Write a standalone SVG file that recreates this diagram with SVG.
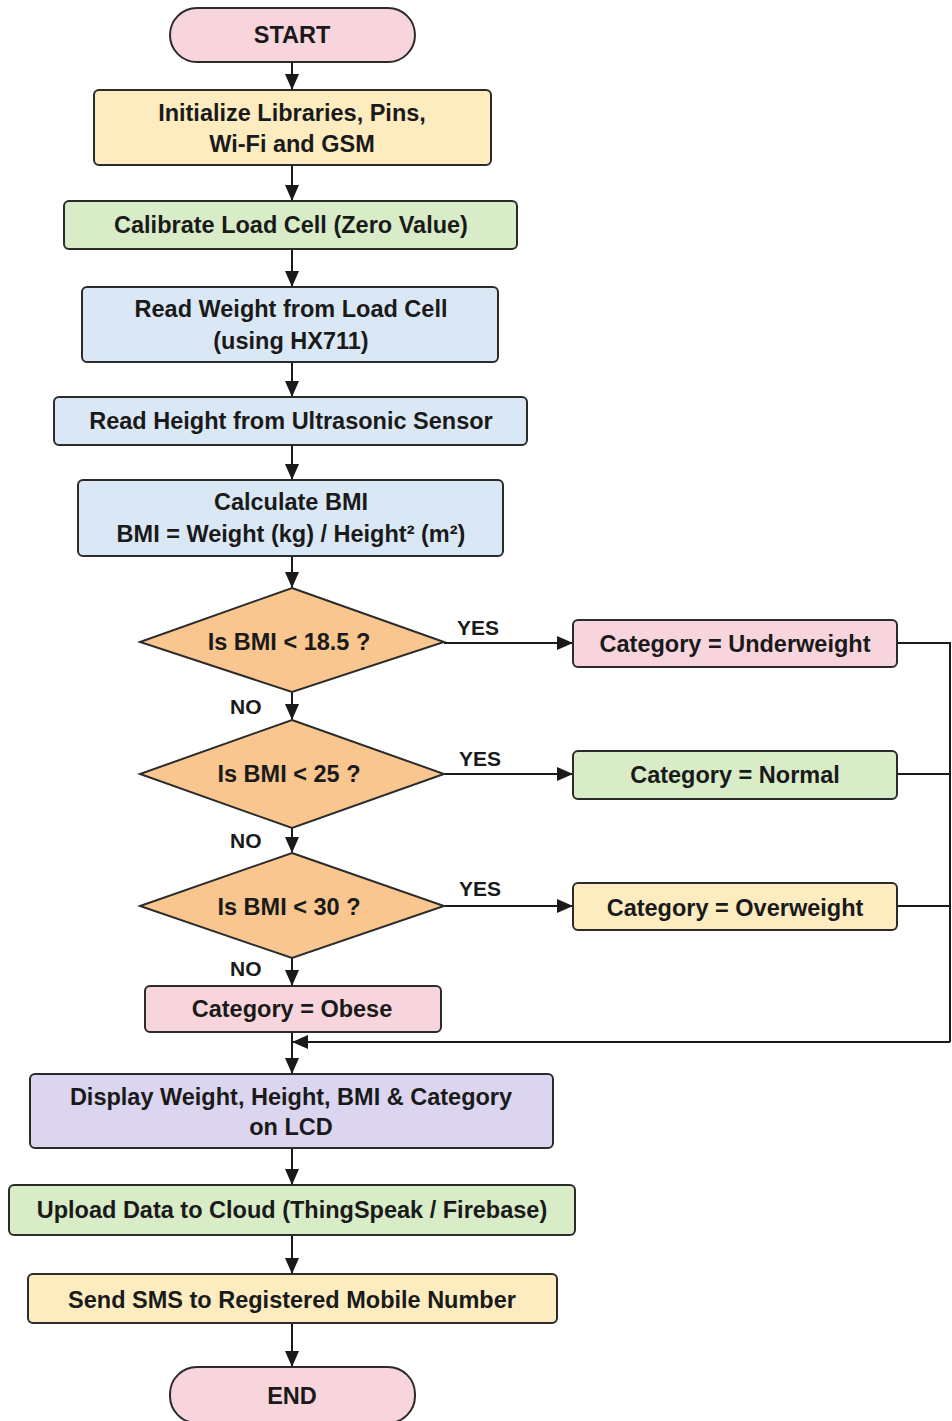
<svg xmlns="http://www.w3.org/2000/svg" width="952" height="1421" viewBox="0 0 952 1421">
<style>
  .n { stroke: #2b2b2b; stroke-width: 2; }
  .pink { fill: #f8d5dc; }
  .yel { fill: #fcecc0; }
  .grn { fill: #d8ecc8; }
  .blu { fill: #dae8f5; }
  .org { fill: #f9c68f; }
  .pur { fill: #dcd5f0; }
  text { font-family: "Liberation Sans", Arial, sans-serif; font-weight: bold; font-size: 23.5px; fill: #1a1a1a; text-anchor: middle; }
  .lbl { font-size: 21px; text-anchor: start; }
  .c { fill: none; stroke: #1a1a1a; stroke-width: 2; }
</style>
<defs>
  <marker id="ah" viewBox="0 0 16 14" refX="15" refY="7" markerWidth="16" markerHeight="14" markerUnits="userSpaceOnUse" orient="auto">
    <path d="M0,0 L16,7 L0,14 Z" fill="#1a1a1a"/>
  </marker>
</defs>
<rect width="952" height="1421" fill="#ffffff"/>

<g id="connectors">
  <line class="c" x1="292" y1="62" x2="292" y2="89" marker-end="url(#ah)"/>
  <line class="c" x1="292" y1="165" x2="292" y2="200" marker-end="url(#ah)"/>
  <line class="c" x1="292" y1="249" x2="292" y2="286" marker-end="url(#ah)"/>
  <line class="c" x1="292" y1="362" x2="292" y2="396" marker-end="url(#ah)"/>
  <line class="c" x1="292" y1="445" x2="292" y2="479" marker-end="url(#ah)"/>
  <line class="c" x1="292" y1="556" x2="292" y2="587" marker-end="url(#ah)"/>
  <line class="c" x1="292" y1="692" x2="292" y2="719" marker-end="url(#ah)"/>
  <line class="c" x1="292" y1="828" x2="292" y2="852" marker-end="url(#ah)"/>
  <line class="c" x1="292" y1="958" x2="292" y2="985" marker-end="url(#ah)"/>
  <line class="c" x1="292" y1="1032" x2="292" y2="1073" marker-end="url(#ah)"/>
  <line class="c" x1="292" y1="1148" x2="292" y2="1184" marker-end="url(#ah)"/>
  <line class="c" x1="292" y1="1235" x2="292" y2="1273" marker-end="url(#ah)"/>
  <line class="c" x1="292" y1="1323" x2="292" y2="1366" marker-end="url(#ah)"/>
  <line class="c" x1="444" y1="643" x2="572" y2="643" marker-end="url(#ah)"/>
  <line class="c" x1="444" y1="774" x2="572" y2="774" marker-end="url(#ah)"/>
  <line class="c" x1="444" y1="906" x2="572" y2="906" marker-end="url(#ah)"/>
  <polyline class="c" points="897,643 950,643 950,1042"/>
  <line class="c" x1="897" y1="774" x2="950" y2="774"/>
  <line class="c" x1="897" y1="906" x2="950" y2="906"/>
  <line class="c" x1="950" y1="1042" x2="293" y2="1042" marker-end="url(#ah)"/>
  <text class="lbl" x="457" y="635">YES</text>
  <text class="lbl" x="459" y="766">YES</text>
  <text class="lbl" x="459" y="896">YES</text>
  <text class="lbl" x="230" y="714">NO</text>
  <text class="lbl" x="230" y="848">NO</text>
  <text class="lbl" x="230" y="976">NO</text>
</g>

<g id="start">
  <rect class="n pink" x="170" y="8" width="245" height="54" rx="27"/>
  <text x="292" y="43">START</text>
</g>
<g id="init">
  <rect class="n yel" x="94" y="90" width="397" height="75" rx="5"/>
  <text x="292" y="121">Initialize Libraries, Pins,</text>
  <text x="292" y="152">Wi-Fi and GSM</text>
</g>
<g id="calibrate">
  <rect class="n grn" x="64" y="201" width="453" height="48" rx="5"/>
  <text x="291" y="233">Calibrate Load Cell (Zero Value)</text>
</g>
<g id="readWeight">
  <rect class="n blu" x="82" y="287" width="416" height="75" rx="5"/>
  <text x="291" y="317">Read Weight from Load Cell</text>
  <text x="291" y="349">(using HX711)</text>
</g>
<g id="readHeight">
  <rect class="n blu" x="54" y="397" width="473" height="48" rx="5"/>
  <text x="291" y="429">Read Height from Ultrasonic Sensor</text>
</g>
<g id="calcBMI">
  <rect class="n blu" x="78" y="480" width="425" height="76" rx="5"/>
  <text x="291" y="510">Calculate BMI</text>
  <text x="291" y="542">BMI = Weight (kg) / Height² (m²)</text>
</g>
<g id="dec1">
  <polygon class="n org" points="292,588 444,642 292,692 140,642"/>
  <text x="289" y="650">Is BMI &lt; 18.5 ?</text>
</g>
<g id="dec2">
  <polygon class="n org" points="292,720 444,774 292,828 140,774"/>
  <text x="289" y="782">Is BMI &lt; 25 ?</text>
</g>
<g id="dec3">
  <polygon class="n org" points="292,853 444,906 292,958 140,906"/>
  <text x="289" y="915">Is BMI &lt; 30 ?</text>
</g>
<g id="underweight">
  <rect class="n pink" x="573" y="620" width="324" height="47" rx="5"/>
  <text x="735" y="652">Category = Underweight</text>
</g>
<g id="normal">
  <rect class="n grn" x="573" y="751" width="324" height="48" rx="5"/>
  <text x="735" y="783">Category = Normal</text>
</g>
<g id="overweight">
  <rect class="n yel" x="573" y="883" width="324" height="47" rx="5"/>
  <text x="735" y="916">Category = Overweight</text>
</g>
<g id="obese">
  <rect class="n pink" x="145" y="986" width="296" height="46" rx="5"/>
  <text x="292" y="1017">Category = Obese</text>
</g>
<g id="display">
  <rect class="n pur" x="30" y="1074" width="523" height="74" rx="5"/>
  <text x="291" y="1105">Display Weight, Height, BMI &amp; Category</text>
  <text x="291" y="1135">on LCD</text>
</g>
<g id="upload">
  <rect class="n grn" x="9" y="1185" width="566" height="50" rx="5"/>
  <text x="292" y="1218">Upload Data to Cloud (ThingSpeak / Firebase)</text>
</g>
<g id="sms">
  <rect class="n yel" x="28" y="1274" width="529" height="49" rx="5"/>
  <text x="292" y="1308">Send SMS to Registered Mobile Number</text>
</g>
<g id="end">
  <rect class="n pink" x="170" y="1367" width="245" height="56" rx="27"/>
  <text x="292" y="1404">END</text>
</g>
</svg>
